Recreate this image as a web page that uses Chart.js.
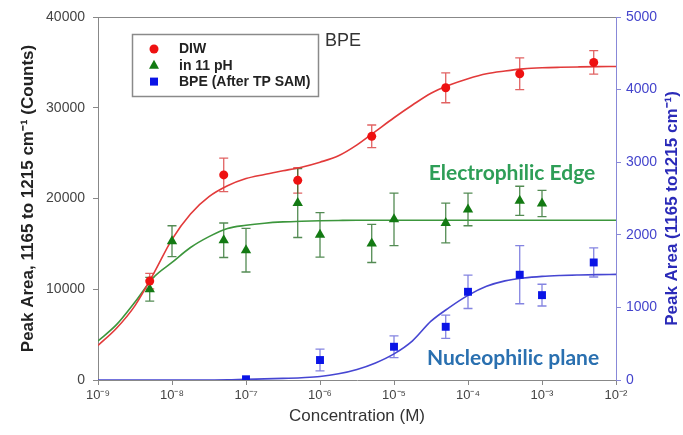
<!DOCTYPE html>
<html>
<head>
<meta charset="utf-8">
<script src="https://cdn.jsdelivr.net/npm/chart.js@4.4.1/dist/chart.umd.min.js"></script>
<style>
  html, body { margin: 0; padding: 0; background: #fff; }
  #wrap { width: 683px; height: 435px; position: relative; }
</style>
</head>
<body>
<div id="wrap"><canvas id="chart"></canvas></div>
<script>
// measured points (concentration in M)
const diwConc = [5e-9, 5e-8, 5e-7, 5e-6, 5e-5, 5e-4, 5e-3];
const diwVal  = [10900, 22600, 22000, 26850, 32200, 33750, 35000];
const diwErr  = [850, 1850, 1400, 1250, 1650, 1750, 1300];

const phConc = [5e-9, 1e-8, 5e-8, 1e-7, 5e-7, 1e-6, 5e-6, 1e-5, 5e-5, 1e-4, 5e-4, 1e-3];
const phVal  = [10000, 15300, 15400, 14300, 19500, 16000, 15050, 17700, 17300, 18800, 19750, 19450];
const phErr  = [1300, 1700, 1900, 2400, 3800, 2450, 2100, 2900, 2200, 1800, 1600, 1450];

const bpeConc = [1e-7, 1e-6, 1e-5, 5e-5, 1e-4, 5e-4, 1e-3, 5e-3];
const bpeVal  = [10, 275, 458, 733, 1215, 1450, 1169, 1619];
const bpeErr  = [0, 150, 150, 160, 230, 400, 150, 200];

// fitted curves, every quarter decade
const fitLogC = [-9, -8.75, -8.5, -8.25, -8, -7.75, -7.5, -7.25, -7, -6.75, -6.5, -6.25, -6, -5.75, -5.5,
                 -5.25, -5, -4.75, -4.5, -4.25, -4, -3.75, -3.5, -3.25, -3, -2.75, -2.5, -2.25, -2];
const diwFit = [3800, 5700, 8200, 11700, 15500, 18300, 20200, 21400, 22200, 22650, 23050, 23450, 24000, 24700, 25900,
                27400, 28900, 30300, 31600, 32500, 33200, 33750, 34050, 34280, 34400, 34460, 34500, 34530, 34550];
const phFit  = [4300, 6100, 8600, 11300, 12950, 14600, 15800, 16700, 17050, 17280, 17420, 17500, 17550, 17580, 17600,
                17600, 17600, 17600, 17600, 17600, 17600, 17600, 17600, 17600, 17600, 17600, 17600, 17600, 17600];
const bpeFit = [0, 0, 0, 0, 0, 0, 0, 2, 10, 15, 22, 32, 48, 85, 145,
                235, 360, 540, 810, 1000, 1165, 1290, 1365, 1405, 1428, 1440, 1447, 1452, 1455];

const decadeTicks = [1e-9, 1e-8, 1e-7, 1e-6, 1e-5, 1e-4, 1e-3, 1e-2];

const FONT = 'Arial, "Liberation Sans", sans-serif';
const supMap = {'-': '\u207B', '0': '\u2070', '1': '\u00B9', '2': '\u00B2', '3': '\u00B3', '4': '\u2074',
                '5': '\u2075', '6': '\u2076', '7': '\u2077', '8': '\u2078', '9': '\u2079'};
const toSup = (s) => String(s).split('').map(c => supMap[c] || c).join('');

const pts = (xs, ys) => xs.map((x, i) => ({x: x, y: ys[i]}));
const fitX = fitLogC.map(v => Math.pow(10, v));

const errorSets = [
  {conc: diwConc, val: diwVal, err: diwErr, axis: 'y', color: 'rgba(220,70,70,0.85)'},
  {conc: phConc, val: phVal, err: phErr, axis: 'y', color: 'rgba(40,110,40,0.8)'},
  {conc: bpeConc, val: bpeVal, err: bpeErr, axis: 'y2', color: 'rgba(110,110,220,0.85)'}
];

const errorBars = {
  id: 'errorBars',
  beforeDatasetsDraw(chart) {
    const ctx = chart.ctx;
    const xs = chart.scales.x;
    ctx.save();
    ctx.lineWidth = 1.3;
    errorSets.forEach(s => {
      const ys = chart.scales[s.axis];
      ctx.strokeStyle = s.color;
      s.conc.forEach((c, i) => {
        if (!s.err[i]) return;
        const px = xs.getPixelForValue(c);
        const top = ys.getPixelForValue(s.val[i] + s.err[i]);
        const bot = ys.getPixelForValue(s.val[i] - s.err[i]);
        ctx.beginPath();
        ctx.moveTo(px, top); ctx.lineTo(px, bot);
        ctx.moveTo(px - 4.5, top); ctx.lineTo(px + 4.5, top);
        ctx.moveTo(px - 4.5, bot); ctx.lineTo(px + 4.5, bot);
        ctx.stroke();
      });
    });
    ctx.restore();
  }
};

function marker(ctx, kind, x, y, color) {
  ctx.fillStyle = color;
  ctx.beginPath();
  if (kind === 'circle') {
    ctx.arc(x, y, 4.5, 0, Math.PI * 2);
  } else if (kind === 'triangle') {
    ctx.moveTo(x, y - 5.5); ctx.lineTo(x + 5, y + 3.5); ctx.lineTo(x - 5, y + 3.5); ctx.closePath();
  } else {
    ctx.rect(x - 4, y - 4, 8, 8);
  }
  ctx.fill();
}

const extras = {
  id: 'extras',
  afterDraw(chart) {
    const ctx = chart.ctx;
    const a = chart.chartArea;
    ctx.save();
    // top frame line
    ctx.strokeStyle = '#888';
    ctx.lineWidth = 1;
    ctx.beginPath();
    ctx.moveTo(a.left, a.top + 0.5); ctx.lineTo(a.right, a.top + 0.5);
    ctx.stroke();

    // legend box
    ctx.strokeStyle = '#8a8a8a';
    ctx.lineWidth = 1.5;
    ctx.strokeRect(132.5, 34.5, 186, 62);
    const rows = [
      ['circle', '#ee1111', 'DIW'],
      ['triangle', '#137a13', 'in 11 pH'],
      ['rect', '#0a14e6', 'BPE (After TP SAM)']
    ];
    ctx.font = 'bold 14px ' + FONT;
    ctx.textBaseline = 'middle';
    ctx.textAlign = 'left';
    rows.forEach((r, i) => {
      const y = 49 + i * 16.3;
      marker(ctx, r[0], 154, y, r[1]);
      ctx.fillStyle = '#222';
      ctx.fillText(r[2], 179, y + 0.5);
    });

    // annotations
    ctx.font = '18px ' + FONT;
    ctx.fillStyle = '#333';
    ctx.fillText('BPE', 325, 41);

    ctx.textAlign = 'center';
    ctx.font = 'bold 21px Lato, "Open Sans", sans-serif';
    ctx.fillStyle = '#2e9e57';
    ctx.fillText('Electrophilic Edge', 512, 173);
    ctx.fillStyle = '#2a70b0';
    ctx.fillText('Nucleophilic plane', 513, 358);

    // right axis title, reading bottom-to-top like the left one
    ctx.translate(672, (a.top + a.bottom) / 2 + 10);
    ctx.rotate(-Math.PI / 2);
    ctx.font = 'bold 17px ' + FONT;
    ctx.fillStyle = '#2a2ab8';
    ctx.fillText('Peak Area (1165 to1215 cm\u207B\u00B9)', 0, 0);
    ctx.restore();
  }
};

new Chart(document.getElementById('chart'), {
  type: 'scatter',
  data: {
    datasets: [
      {label: 'DIW', data: pts(diwConc, diwVal), yAxisID: 'y', pointStyle: 'circle', pointRadius: 4.5,
       backgroundColor: '#ee1111', borderWidth: 0, order: 1},
      {label: 'in 11 pH', data: pts(phConc, phVal), yAxisID: 'y', pointStyle: 'triangle', pointRadius: 6,
       backgroundColor: '#137a13', borderWidth: 0, order: 1},
      {label: 'BPE (After TP SAM)', data: pts(bpeConc, bpeVal), yAxisID: 'y2', pointStyle: 'rect', pointRadius: 5.6,
       backgroundColor: '#0a14e6', borderWidth: 0, order: 1},
      {type: 'line', data: pts(fitX, diwFit), yAxisID: 'y', borderColor: '#e23a3a', borderWidth: 1.6,
       pointRadius: 0, cubicInterpolationMode: 'monotone', fill: false, order: 2},
      {type: 'line', data: pts(fitX, phFit), yAxisID: 'y', borderColor: '#3c963c', borderWidth: 1.6,
       pointRadius: 0, cubicInterpolationMode: 'monotone', fill: false, order: 2},
      {type: 'line', data: pts(fitX, bpeFit), yAxisID: 'y2', borderColor: '#4646d2', borderWidth: 1.6,
       pointRadius: 0, cubicInterpolationMode: 'monotone', fill: false, order: 2}
    ]
  },
  options: {
    responsive: true,
    maintainAspectRatio: false,
    animation: false,
    layout: {padding: {top: 17, left: 0, right: 0, bottom: 0}},
    plugins: {legend: {display: false}, tooltip: {enabled: false}},
    scales: {
      x: {
        type: 'logarithmic',
        min: 1e-9,
        max: 1e-2,
        afterBuildTicks: (s) => { s.ticks = decadeTicks.map(v => ({value: v, major: true})); },
        afterFit: (s) => { s.height = 55; },
        grid: {drawOnChartArea: false, tickLength: 5, color: '#888'},
        border: {color: '#888'},
        ticks: {
          autoSkip: false, maxRotation: 0, padding: 3, color: '#444',
          font: {family: FONT, size: 13},
          callback: (v) => '10' + toSup(Math.round(Math.log10(v)))
        },
        title: {display: true, text: 'Concentration (M)', color: '#333',
                font: {family: FONT, size: 17}, padding: {top: 0, bottom: 8}}
      },
      y: {
        position: 'left',
        min: 0, max: 40000,
        afterFit: (s) => { s.width = 98; },
        grid: {drawOnChartArea: false, tickLength: 5, color: '#888'},
        border: {color: '#888'},
        ticks: {stepSize: 10000, padding: 8, color: '#444', font: {family: FONT, size: 14},
                callback: (v) => String(v)},
        title: {display: true, text: 'Peak Area, 1165 to 1215 cm\u207B\u00B9 (Counts)', color: '#222',
                font: {family: FONT, size: 17, weight: 'bold'}, padding: {top: 18, bottom: 0}}
      },
      y2: {
        position: 'right',
        min: 0, max: 5000,
        afterFit: (s) => { s.width = 67; },
        grid: {drawOnChartArea: false, tickLength: 5, color: '#8888d8'},
        border: {color: '#8888d8'},
        ticks: {stepSize: 1000, padding: 5, color: '#4444cc', font: {family: FONT, size: 14},
                callback: (v) => String(v)}
      }
    }
  },
  plugins: [errorBars, extras]
});
</script>
</body>
</html>
